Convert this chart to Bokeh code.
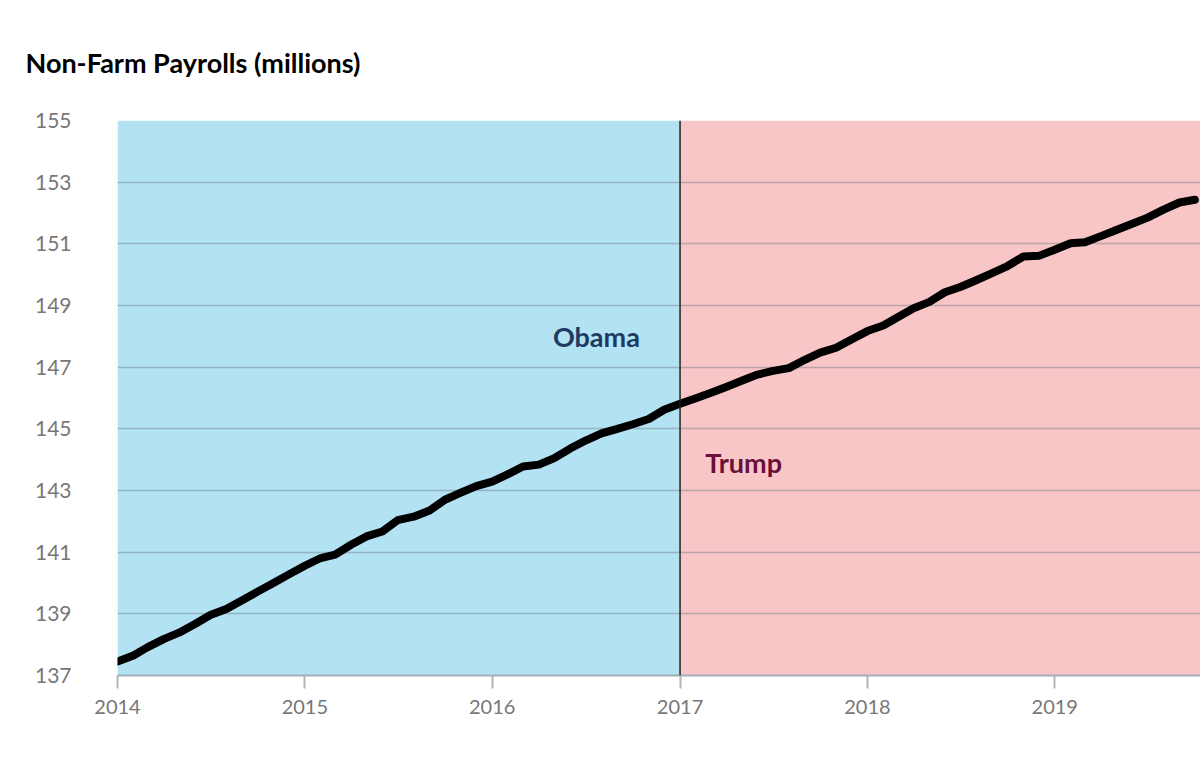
import pandas as pd
from bokeh.plotting import figure
from bokeh.models import (BoxAnnotation, Span, Label, FixedTicker, DatetimeTickFormatter,
                          Range1d, Title)
from bokeh.embed import file_html
from bokeh.resources import INLINE

# ---- data (millions, monthly, seasonally adjusted) ----
start_month = "2014-01-01"
payrolls = [
    137.45, 137.65, 137.92, 138.18, 138.39, 138.67, 138.96, 139.16, 139.44, 139.72, 140.00, 140.28,
    140.56, 140.81, 140.92, 141.24, 141.51, 141.67, 142.04, 142.15, 142.35, 142.70, 142.93, 143.14,
    143.29, 143.53, 143.78, 143.84, 144.05, 144.36, 144.62, 144.85, 145.00, 145.15, 145.32, 145.62,
    145.81, 145.99, 146.16, 146.36, 146.56, 146.76, 146.88, 146.97, 147.24, 147.47, 147.63, 147.90,
    148.17, 148.35, 148.62, 148.91, 149.11, 149.43, 149.60, 149.82, 150.05, 150.28, 150.59, 150.61,
    150.81, 151.02, 151.05, 151.25, 151.45, 151.65, 151.85, 152.11, 152.34, 152.43,
]
dates = pd.date_range(start_month, periods=len(payrolls), freq="MS")
year_ticks = [2014, 2015, 2016, 2017, 2018, 2019]
y_ticks = [137, 139, 141, 143, 145, 147, 149, 151, 153, 155]
presidents = ["Obama", "Trump"]
term_change = "2017-01-01"
president_colors = ["#b3e2f3", "#f9c6c7"]
president_text_colors = ["#1e3a63", "#6b1039"]

def ms(d):
    return pd.Timestamp(d).value / 1e6

x_start = ms(start_month)
x_end = ms("2019-10-12")

p = figure(width=1200, height=779, x_axis_type="datetime", output_backend="svg",
           toolbar_location=None, x_range=Range1d(x_start, x_end), y_range=Range1d(137, 155),
           min_border_left=117, min_border_right=0, min_border_top=120, min_border_bottom=104)
p.outline_line_color = None
p.background_fill_color = "white"

# title
p.title = Title(text="Non-Farm Payrolls (millions)", align="left", offset=-92, standoff=84,
                text_font="Lato", text_font_style="bold", text_font_size="27px",
                text_color="black")

# background periods
p.add_layout(BoxAnnotation(left=x_start, right=ms(term_change), fill_color=president_colors[0],
                           fill_alpha=1.0, line_color=None, level="image"))
p.add_layout(BoxAnnotation(left=ms(term_change), right=x_end, fill_color=president_colors[1],
                           fill_alpha=1.0, line_color=None, level="image"))

# grid
p.xgrid.grid_line_color = None
p.ygrid.ticker = FixedTicker(ticks=y_ticks)
p.ygrid.grid_line_color = "#6f7f88"
p.ygrid.grid_line_alpha = 0.45
p.ygrid.grid_line_width = 1.5

# term boundary
p.add_layout(Span(location=ms(term_change), dimension="height", line_color="#222222", line_width=1.5))

# line
p.line(dates, payrolls, line_color="black", line_width=8, line_join="round", line_cap="round")

# axes
p.xaxis.ticker = FixedTicker(ticks=[ms(f"{y}-01-01") for y in year_ticks])
p.xaxis.formatter = DatetimeTickFormatter(years="%Y", months="%Y", days="%Y", hours="%Y",
                                          minutes="%Y", seconds="%Y", milliseconds="%Y",
                                          microseconds="%Y", minsec="%Y", hourmin="%Y")
p.xaxis.major_tick_out = 13
p.xaxis.major_tick_in = 0
p.xaxis.minor_tick_out = 0
p.xaxis.minor_tick_in = 0
p.xaxis.major_tick_line_color = "#b5b5b5"
p.xaxis.major_tick_line_width = 2
p.xaxis.axis_line_color = "#9fb0b8"
p.xaxis.axis_line_width = 2
p.xaxis.major_label_text_font = "Lato"
p.xaxis.major_label_text_font_size = "20px"
p.xaxis.major_label_text_color = "#777777"
p.xaxis.major_label_standoff = 11

p.yaxis.ticker = FixedTicker(ticks=y_ticks)
p.yaxis.axis_line_color = None
p.yaxis.major_tick_line_color = None
p.yaxis.minor_tick_line_color = None
p.yaxis.major_label_text_font = "Lato"
p.yaxis.major_label_text_font_size = "21px"
p.yaxis.major_label_text_color = "#777777"
p.yaxis.major_label_standoff = 40

# president labels
p.add_layout(Label(x=ms("2016-07-22"), y=147.99, text=presidents[0], text_font="Lato",
                   text_font_style="bold", text_font_size="27px", text_color=president_text_colors[0],
                   text_align="center", text_baseline="middle"))
p.add_layout(Label(x=ms("2017-05-05"), y=143.91, text=presidents[1], text_font="Lato",
                   text_font_style="bold", text_font_size="27px", text_color=president_text_colors[1],
                   text_align="center", text_baseline="middle"))

open("out.html", "w").write(file_html(p, INLINE))
